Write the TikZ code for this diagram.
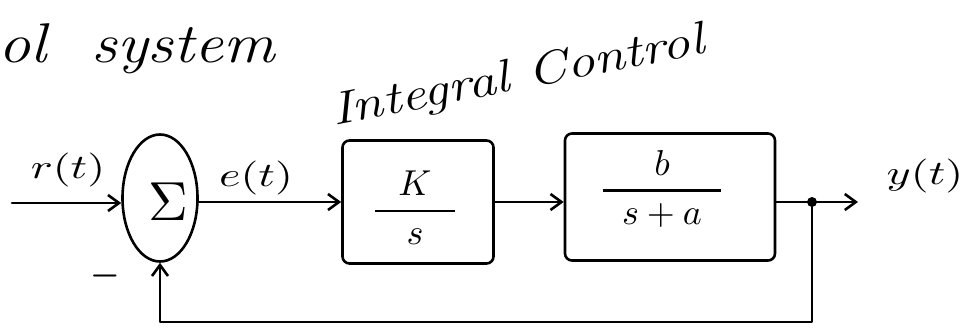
\documentclass[tikz,border=0pt]{standalone}
\usepackage{amsmath}
\usetikzlibrary{shapes.geometric,arrows.meta}
\tikzset{
  pen/.style={line width=2.6pt, line cap=round, line join=round},
  arr/.style={pen, -{Straight Barb[length=11pt,width=16pt,line width=2.6pt]}},
  block/.style={pen, draw, rounded corners=7pt, inner sep=0pt},
  sumnode/.style={pen, draw, ellipse, inner sep=0pt, minimum width=75pt, minimum height=127pt},
  lbl/.style={inner sep=0pt},
  title/.style={inner sep=0pt},
}
% enlarged math for the signal labels
\newcommand{\sigLabel}[1]{\scalebox{4.6}[3.4]{$#1$}}
% transfer function with a heavy fraction bar
\newcommand{\tfLabel}[2]{\scalebox{3.6}{$\genfrac{}{}{0.75pt}{0}{#1}{#2}$}}
\begin{document}
\begin{tikzpicture}[x=1pt,y=-1pt]
  \useasboundingbox (0,0) rectangle (976,330);

  % headings
  \node[title, anchor=base west, font=\fontsize{56}{60}\selectfont\itshape] (head) at (-2,62)
    {\scalebox{1.15}[1]{ol\ \ system}};
  \node[title, rotate=11, font=\fontsize{46}{50}\selectfont\itshape] (ctl) at (518,78)
    {\scalebox{1.22}[1]{Integral Control}};

  % summing junction
  \node[sumnode] (sum) at (160,198) {};
  \node[lbl] (sig) at (168,202) {\scalebox{5.5}{$\Sigma$}};

  % blocks
  \node[block, minimum width=151pt, minimum height=123pt] (b1) at (418,202) {};
  \node[block, minimum width=210pt, minimum height=127pt] (b2) at (670,197) {};
  \node[lbl] (tf1) at (415,208) {\tfLabel{\makebox[22pt]{$K$}}{s}};
  \node[lbl] (tf2) at (662,189) {\tfLabel{\makebox[33pt]{$b$}}{s+a}};

  % signal ends
  \coordinate (in) at (12,203);
  \coordinate (tap) at (812,202);
  \coordinate (out) at (858,202);

  % signal labels
  \node[lbl] (r) at (68,170) {\sigLabel{r(t)}};
  \node[lbl] (e) at (256,178) {\sigLabel{e(t)}};
  \node[lbl] (y) at (925,176) {\sigLabel{y(t)}};
  \node[lbl] (minus) at (105,276) {\scalebox{3.8}[5]{$-$}};

  % forward path
  \draw[arr] (in) -- (in -| sum.west);
  \draw[arr] (sum.east |- b1.west) -- (b1.west);
  \draw[arr] (b1.east) -- (b1.east -| b2.west);
  \draw[arr] (b2.east |- tap) -- (out);

  % feedback path
  \fill (tap) circle (5pt);
  \draw[arr] (tap) -- ++(0,120) -| (sum.south);
\end{tikzpicture}
\end{document}
